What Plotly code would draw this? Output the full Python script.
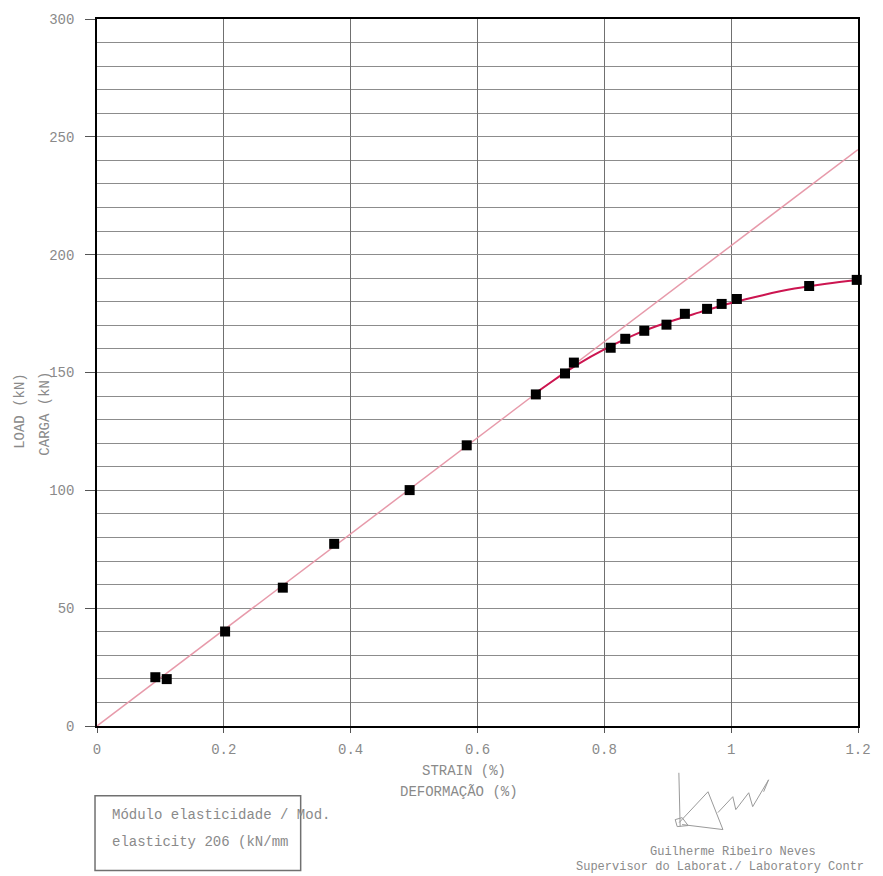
import plotly.graph_objects as go

# ---- data ----
strain = [0.092, 0.110, 0.202, 0.293, 0.374, 0.493, 0.583, 0.692, 0.738, 0.752,
          0.810, 0.833, 0.863, 0.898, 0.927, 0.962, 0.985, 1.009, 1.123, 1.198]
load = [20.7, 19.9, 40.1, 58.7, 77.3, 100.1, 119.1, 140.7, 149.6, 154.2,
        160.5, 164.3, 167.7, 170.3, 174.9, 177.0, 179.1, 181.2, 186.7, 189.3]

line_x = [0.0, 1.2]
line_y = [0.0, 244.6]

curve_x = [0.69, 0.74, 0.76, 0.80, 0.85, 0.90, 0.95, 1.00, 1.05, 1.10, 1.15, 1.20]
curve_y = [141.0, 150.3, 153.8, 159.8, 166.3, 171.3, 175.5, 179.5, 182.8, 185.6, 187.7, 189.3]

x_ticks = [0, 0.2, 0.4, 0.6, 0.8, 1.0, 1.2]
x_tick_text = ["0", "0.2", "0.4", "0.6", "0.8", "1", "1.2"]
y_ticks = [0, 50, 100, 150, 200, 250, 300]

W, H = 883, 876
L, R, T, B = 97, 20, 16, 150
PW, PH = W - L - R, H - T - B

FONT = "Liberation Mono, Courier New, monospace"
GREY = "#8a8a8a"
FS = 14


def px(x):
    return (x - L) / PW


def py(y):
    return (H - B - y) / PH


fig = go.Figure()
fig.add_trace(go.Scatter(x=line_x, y=line_y, mode="lines",
                         line=dict(color="#e79aaa", width=1.5), hoverinfo="skip"))
fig.add_trace(go.Scatter(x=curve_x, y=curve_y, mode="lines",
                         line=dict(color="#cc1550", width=2, shape="spline"), hoverinfo="skip"))
fig.add_trace(go.Scatter(x=strain, y=load, mode="markers",
                         marker=dict(symbol="square", size=10, color="black"),
                         cliponaxis=False))

annotations = [
    dict(text="STRAIN (%)", x=px(466), y=py(771)),
    dict(text="DEFORMAÇÃO (%)", x=px(461), y=py(792)),
    dict(text="LOAD (kN)", x=px(20), y=py(410), textangle=-90),
    dict(text="CARGA (kN)", x=px(45), y=py(412), textangle=-90),
    dict(text="Módulo elasticidade / Mod.", x=px(110), y=py(815), xanchor="left"),
    dict(text="elasticity 206 (kN/mm", x=px(110), y=py(842), xanchor="left"),
    dict(text="Guilherme Ribeiro Neves", x=px(737), y=py(853), size=12),
    dict(text="Supervisor do Laborat./ Laboratory Contr", x=px(724), y=py(868), size=12),
]
for a in annotations:
    size = a.pop("size", FS)
    a.update(xref="paper", yref="paper", showarrow=False,
             font=dict(family=FONT, size=size, color=GREY))
    a.setdefault("xanchor", "center")
    a["yanchor"] = "middle"

sig = [(682.7, 773), (684, 827)], \
      [(686, 818), (679, 820), (681, 827), (692, 826), (686, 818)], \
      [(683, 823), (712, 792), (727, 830), (686, 825)], \
      [(722, 813), (737, 797), (740, 810), (753, 793), (757, 807), (773, 780), (768, 792)]
shapes = []
for stroke in sig:
    path = "M " + " L ".join(f"{px(a):.4f},{py(b):.4f}" for a, b in stroke)
    shapes.append(dict(type="path", xref="paper", yref="paper", path=path,
                       line=dict(color="#9a9a9a", width=1)))
shapes.append(dict(type="rect", xref="paper", yref="paper",
                   x0=px(95), x1=px(302), y0=py(796), y1=py(871),
                   line=dict(color="#707070", width=1.5)))

fig.update_layout(
    width=W, height=H,
    margin=dict(l=L, r=R, t=T, b=B),
    paper_bgcolor="white", plot_bgcolor="white",
    showlegend=False,
    font=dict(family=FONT, size=FS, color=GREY),
    annotations=annotations,
    shapes=shapes,
    xaxis=dict(range=[0, 1.2], tickvals=x_ticks, ticktext=x_tick_text,
               showgrid=True, gridcolor="#707070", gridwidth=1,
               showline=True, linecolor="black", linewidth=1.5, mirror=True,
               ticks="outside", ticklen=5, tickcolor="#555", ticklabelstandoff=4,
               zeroline=False, tickfont=dict(family=FONT, size=FS, color=GREY)),
    yaxis=dict(range=[0, 300], tickvals=y_ticks,
               showgrid=True, gridcolor="#8c8c8c", gridwidth=1.3,
               minor=dict(dtick=10, showgrid=True, gridcolor="#8c8c8c", gridwidth=1.3),
               showline=True, linecolor="black", linewidth=1.5, mirror=True,
               ticks="outside", ticklen=10, tickcolor="#555", ticklabelstandoff=8,
               zeroline=False, tickfont=dict(family=FONT, size=FS, color=GREY)),
)

fig.write_html("out.html", config={"displayModeBar": False},
               post_script="document.body.style.margin='0';document.body.style.overflow='hidden';")
